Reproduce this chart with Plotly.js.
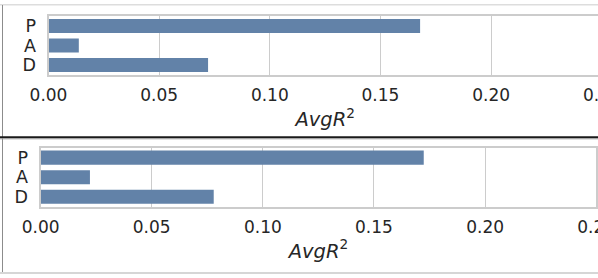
<!DOCTYPE html>
<html>
<head>
<meta charset="utf-8">
<script src="https://cdn.plot.ly/plotly-3.0.1.min.js"></script>
<style>
html,body{margin:0;padding:0;overflow:hidden;background:#fff;width:598px;height:278px;}
#c{width:650px;height:278px;}
</style>
</head>
<body>
<div id="c"></div>
<script>
// ---- data ----
const categories = ['P', 'A', 'D'];
const topValues = [0.1679, 0.0137, 0.0721];
const bottomValues = [0.1724, 0.0222, 0.0779];
const xTickVals = [0, 0.05, 0.10, 0.15, 0.20, 0.25];
const xTickText = ['0.00', '0.05', '0.10', '0.15', '0.20', '0.25'];

// ---- layout helpers (pixel -> paper) ----
const W = 650, H = 278;
const px = v => v / W;
const py = v => 1 - v / H;

const barColor = '#6282a8';
const textColor = '#262626';
const frameColor = '#cccccc';
const font = 'DejaVu Sans, sans-serif';

function xAxis(domain, anchor) {
  return {
    domain: domain, anchor: anchor,
    range: [0, 0.25], tickmode: 'array', tickvals: xTickVals, ticktext: xTickText,
    showgrid: true, gridcolor: frameColor, gridwidth: 1,
    zeroline: false,
    showline: true, linecolor: frameColor, linewidth: 2, mirror: true,
    ticks: 'outside', ticklen: 4, tickcolor: 'rgba(0,0,0,0)',
    tickfont: {family: font, size: 17, color: textColor},
    title: {text: '<i>AvgR</i><sup>2</sup>', font: {family: font, size: 19.5, color: textColor}, standoff: 8},
    fixedrange: true
  };
}
function yAxis(domain, anchor) {
  return {
    domain: domain, anchor: anchor,
    type: 'category', range: [2.5, -0.5],
    tickmode: 'array', tickvals: categories, ticktext: categories,
    showgrid: false, zeroline: false,
    showline: true, linecolor: frameColor, linewidth: 2, mirror: true,
    ticks: 'outside', ticklen: 7, tickcolor: 'rgba(0,0,0,0)',
    tickfont: {family: font, size: 17.5, color: textColor},
    fixedrange: true
  };
}

const traces = [
  {type: 'bar', orientation: 'h', x: topValues, y: categories, xaxis: 'x', yaxis: 'y',
   width: 0.72, marker: {color: barColor}, hoverinfo: 'skip'},
  {type: 'bar', orientation: 'h', x: bottomValues, y: categories, xaxis: 'x2', yaxis: 'y2',
   width: 0.72, marker: {color: barColor}, hoverinfo: 'skip'}
];

const layout = {
  width: W, height: H,
  margin: {l: 0, r: 0, t: 0, b: 0},
  paper_bgcolor: '#ffffff', plot_bgcolor: '#ffffff',
  showlegend: false,
  xaxis: xAxis([px(48.5), px(601.8)], 'y'),
  yaxis: yAxis([py(74.8), py(16.3)], 'x'),
  xaxis2: xAxis([px(40.6), px(596.2)], 'y2'),
  yaxis2: yAxis([py(206.6), py(147.8)], 'x2'),
  shapes: [
    {type: 'line', xref: 'paper', yref: 'paper', x0: 0, x1: 1, y0: py(4.7), y1: py(4.7), line: {color: '#dddddd', width: 1.5}},
    {type: 'line', xref: 'paper', yref: 'paper', x0: px(2.5), x1: px(2.5), y0: py(5), y1: py(272.5), line: {color: '#8c8c8c', width: 1}},
    {type: 'line', xref: 'paper', yref: 'paper', x0: 0, x1: 1, y0: py(137.3), y1: py(137.3), line: {color: '#1a1a1a', width: 2}},
    {type: 'line', xref: 'paper', yref: 'paper', x0: 0, x1: 1, y0: py(138.8), y1: py(138.8), line: {color: '#9a9a9a', width: 1}},
    {type: 'line', xref: 'paper', yref: 'paper', x0: 0, x1: 1, y0: py(273), y1: py(273), line: {color: '#d6d6d6', width: 2}}
  ]
};

Plotly.newPlot('c', traces, layout, {staticPlot: true, displayModeBar: false});
</script>
</body>
</html>
